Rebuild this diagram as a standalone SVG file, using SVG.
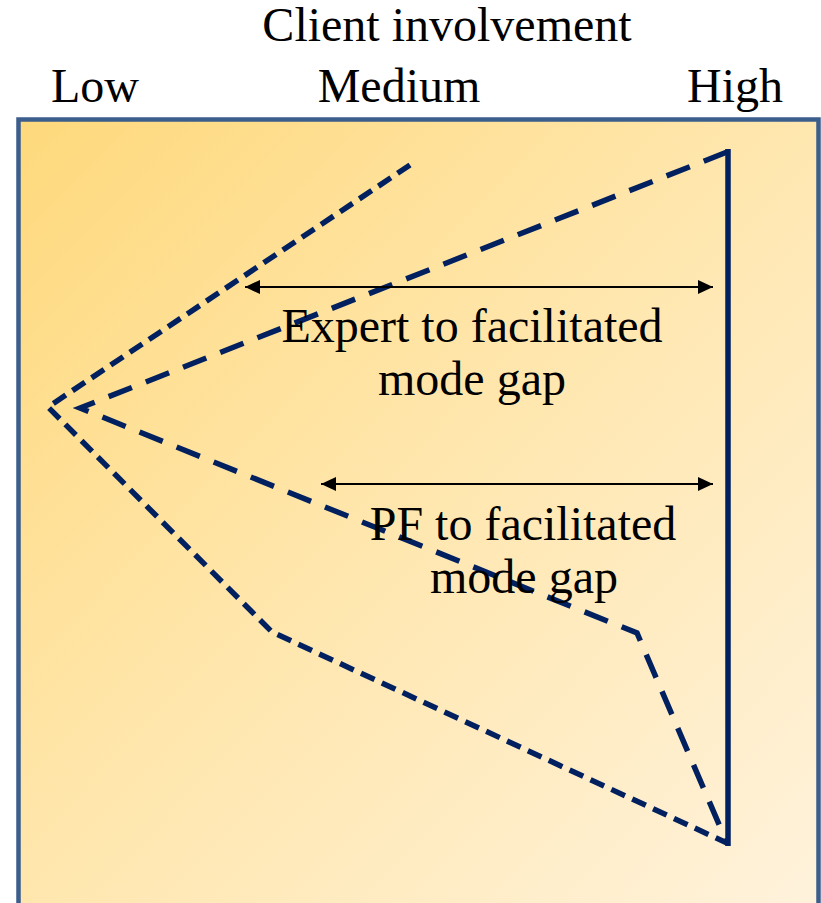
<svg xmlns="http://www.w3.org/2000/svg" width="821" height="903" viewBox="0 0 821 903">
<defs>
<linearGradient id="bg" x1="0" y1="0" x2="1" y2="1">
<stop offset="0" stop-color="#FED97C"/>
<stop offset="0.5" stop-color="#FFE7B0"/>
<stop offset="1" stop-color="#FFF3DE"/>
</linearGradient>
<marker id="ah" viewBox="0 0 15 14" refX="15" refY="7" markerWidth="15" markerHeight="14" markerUnits="userSpaceOnUse" orient="auto-start-reverse">
<path d="M0,0 L15,7 L0,14 z" fill="#000"/>
</marker>
</defs>
<style>
.t{font-family:"Liberation Serif","Times New Roman",serif;font-size:48px;fill:#000;text-anchor:middle}
.ln{fill:none;stroke:#002060;stroke-width:5.5;stroke-linejoin:miter}
.sd{stroke-dasharray:15 8}
.ld{stroke-dasharray:25 15}
.ar{stroke:#000;stroke-width:2;fill:none}
</style>
<g id="header">
<text class="t" x="447" y="41">Client involvement</text>
<text class="t" x="95" y="102">Low</text>
<text class="t" x="399" y="102">Medium</text>
<text class="t" x="735" y="102">High</text>
</g>
<g id="panel">
<rect x="18.5" y="119.5" width="800" height="820" fill="url(#bg)" stroke="#3B5E8C" stroke-width="4.5"/>
</g>
<g id="connectors">
<path id="expert-mode" class="ln sd" d="M410,165 L48,407 L272,632 L727,843"/>
<path id="pf-mode" class="ln ld" d="M727,152 L80,408 L637,633 L727,843"/>
<path id="facilitated-mode" class="ln" d="M728,149 L728,846"/>
<line class="ar" x1="245" y1="287" x2="713" y2="287" marker-start="url(#ah)" marker-end="url(#ah)"/>
<line class="ar" x1="321" y1="484" x2="713" y2="484" marker-start="url(#ah)" marker-end="url(#ah)"/>
</g>
<g id="label-expert">
<text class="t" x="472" y="342">Expert to facilitated</text>
<text class="t" x="472" y="395">mode gap</text>
</g>
<g id="label-pf">
<text class="t" x="523" y="540">PF to facilitated</text>
<text class="t" x="524" y="593">mode gap</text>
</g>
</svg>
